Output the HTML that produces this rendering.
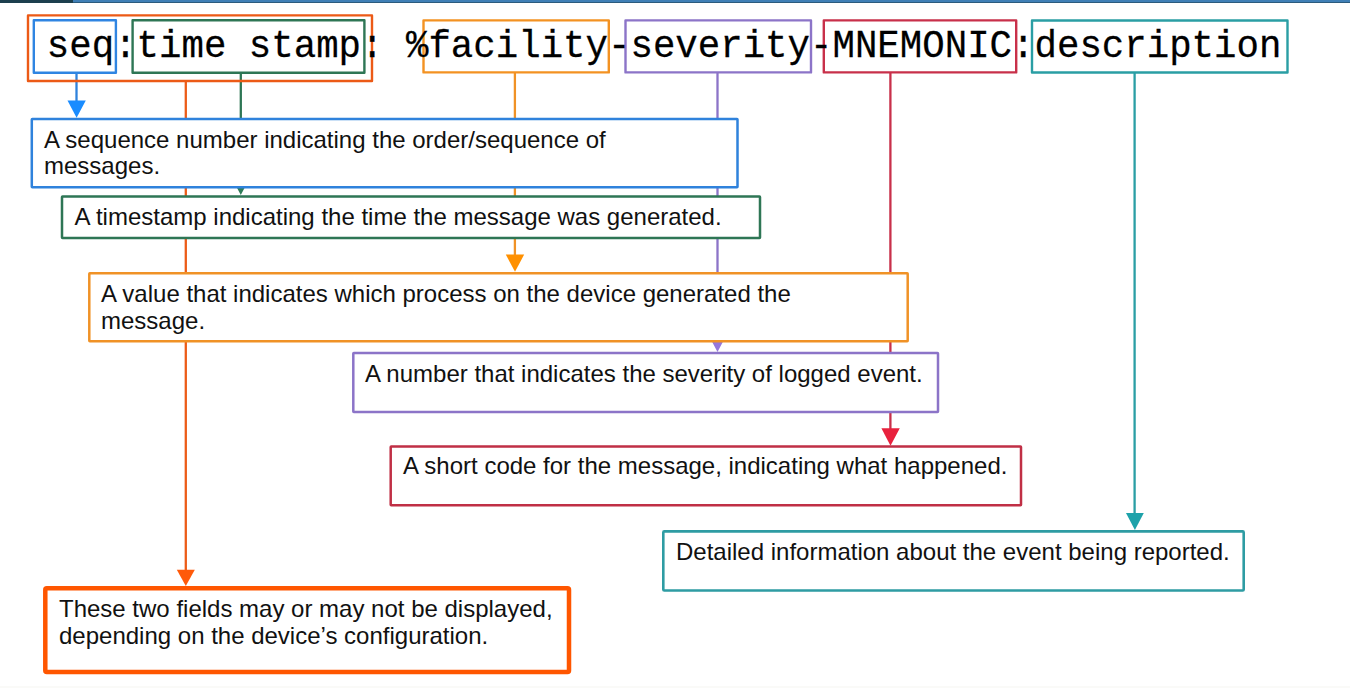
<!DOCTYPE html>
<html><head><meta charset="utf-8">
<style>
html,body{margin:0;padding:0;background:#fff;}
body{width:1350px;height:688px;position:relative;overflow:hidden;}
#bar1{position:absolute;left:0;top:0;width:73px;height:3px;background:#1c3f4e;}
#bar2{position:absolute;left:73px;top:0;width:1277px;height:2px;background:#3f7fb6;}
#bar3{position:absolute;left:73px;top:2px;width:1277px;height:1px;background:#2b5b7d;}
svg{position:absolute;left:0;top:0;}
.m{position:absolute;font-family:"Liberation Mono",monospace;font-size:37.42px;line-height:1;color:#000;white-space:pre;}
.t{position:absolute;font-family:"Liberation Sans",sans-serif;font-size:24px;line-height:26.5px;color:#111;white-space:pre;}
</style></head><body>
<div id="bar1"></div><div id="bar2"></div><div id="bar3"></div>
<svg width="1350" height="688" viewBox="0 0 1350 688">
  <g fill="none" stroke-width="2.3">
    <line x1="76.5" y1="73" x2="76.5" y2="102" stroke="#2f82dc"/>
    <line x1="185.8" y1="81" x2="185.8" y2="572" stroke="#ec5c18"/>
    <line x1="240.8" y1="73" x2="240.8" y2="180" stroke="#2e7655"/>
    <line x1="514.9" y1="72" x2="514.9" y2="256" stroke="#f09226"/>
    <line x1="717.5" y1="72" x2="717.5" y2="337" stroke="#8c74c8"/>
    <line x1="890.4" y1="72" x2="890.4" y2="430" stroke="#c8304a"/>
    <line x1="1134.6" y1="72" x2="1134.6" y2="515" stroke="#2a9ea4"/>
  </g>
  <g stroke="none">
    <polygon points="67.5,100.5 85.8,100.5 76.6,117.8" fill="#1a8cff"/>
    <polygon points="176.8,569.7 194.8,569.7 185.8,586" fill="#ff5a0a"/>
    <polygon points="231.8,178 249.8,178 240.8,195" fill="#2f7d59"/>
    <polygon points="505.8,254.5 524.2,254.5 515,271.8" fill="#ff9000"/>
    <polygon points="708.5,335 726.5,335 717.5,352" fill="#9577dc"/>
    <polygon points="881.4,428.3 899.8,428.3 890.5,445.8" fill="#e8213d"/>
    <polygon points="1126,513 1143.8,513 1134.9,530" fill="#1ea2aa"/>
  </g>
  <g fill="#fff">
    <rect x="31.8" y="119" width="705.7" height="68.3" rx="0.5" stroke="#2f82dc" stroke-width="2.5"/>
    <rect x="62" y="196.4" width="698" height="41.5" rx="0.5" stroke="#2e7655" stroke-width="2.5"/>
    <rect x="89.3" y="273.3" width="818.4" height="67.9" rx="0.5" stroke="#f09226" stroke-width="2.5"/>
    <rect x="353.3" y="352.9" width="584.7" height="59" rx="0.5" stroke="#8c74c8" stroke-width="2.5"/>
    <rect x="390.7" y="446.5" width="630.3" height="58.8" rx="0.5" stroke="#c02f45" stroke-width="2.5"/>
    <rect x="663.3" y="531.4" width="580.4" height="59.1" rx="1" stroke="#2e9ca3" stroke-width="2.6"/>
    <rect x="45.3" y="588.2" width="523.7" height="83.8" rx="1.5" stroke="#ff5600" stroke-width="4.5"/>
  </g>
  <g fill="none" stroke-width="2.4" stroke-linejoin="round">
    <rect x="28" y="15.4" width="344" height="65.6" stroke="#ec5a16"/>
    <rect x="33.8" y="20.2" width="82.1" height="52.5" stroke="#2f85e2"/>
    <rect x="132.6" y="20.2" width="231.8" height="52.5" stroke="#2e7655"/>
    <rect x="423.5" y="20.4" width="185.3" height="52" stroke="#f39222"/>
    <rect x="625.5" y="20.4" width="185.5" height="52" stroke="#8c74c8"/>
    <rect x="823.8" y="20.4" width="192.4" height="52" stroke="#c8304a"/>
    <rect x="1032" y="20.5" width="255.5" height="52" stroke="#2a9ea4"/>
  </g>
</svg>
<div style="position:absolute;left:0;top:686px;width:1350px;height:2px;background:#fafaf8;"></div>
<div class="m" id="mono" style="left:46.8px;top:28.5px;transform-origin:0 28.7px;transform:scaleY(1.03);-webkit-text-stroke:0.25px #000;">seq:time stamp: %facility-severity-MNEMONIC:description</div>

<div class="t" style="left:44px;top:127px;">A sequence number indicating the order/sequence of</div>
<div class="t" style="left:44px;top:153px;">messages.</div>
<div class="t" style="left:74.6px;top:204px;">A timestamp indicating the time the message was generated.</div>
<div class="t" style="left:101px;top:281px;">A value that indicates which process on the device generated the</div>
<div class="t" style="left:101px;top:308px;">message.</div>
<div class="t" style="left:365px;top:361px;">A number that indicates the severity of logged event.</div>
<div class="t" style="left:403px;top:453px;">A short code for the message, indicating what happened.</div>
<div class="t" style="left:676px;top:539px;">Detailed information about the event being reported.</div>
<div class="t" style="left:59px;top:596px;">These two fields may or may not be displayed,</div>
<div class="t" style="left:59px;top:623px;">depending on the device’s configuration.</div>
</body></html>
